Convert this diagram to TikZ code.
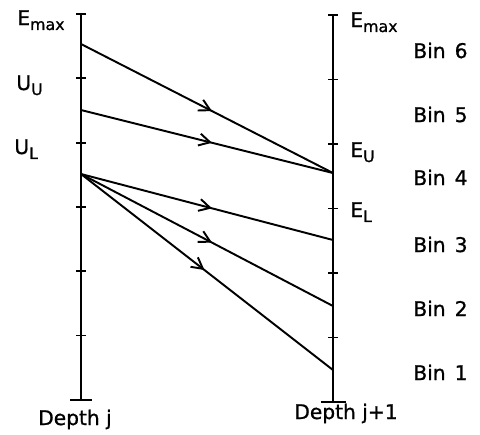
\documentclass[tikz,border=0pt]{standalone}
\usepackage{fontspec}
\setmainfont{DejaVu Sans}[FakeBold=1]
\usetikzlibrary{arrows.meta, decorations.markings}
\tikzset{
  axisline/.style={line width=1.1pt},
  ray/.style={line width=1.1pt, postaction={decorate},
    decoration={markings, mark=at position #1 with
      {\arrow{Straight Barb[length=2.2mm,width=2.4mm]}}}},
  ray/.default=0.52,
  lbl/.style={font=\fontsize{11.5}{13}\selectfont, inner sep=0pt}
}
\newcommand\lsub[1]{\raisebox{-0.45ex}{\fontsize{9}{10}\selectfont #1}}

\begin{document}
\begin{tikzpicture}[x=0.02cm, y=-0.02cm]
\useasboundingbox (0,0) rectangle (480,434);

% ── Depth axes ───────────────────────────────────────────────────────────────
\coordinate (jtop) at (81,14);
\coordinate (jbot) at (81,400);
\coordinate (ktop) at (333,15);
\coordinate (kbot) at (333,402);
\draw[axisline] (jtop) -- (jbot);
\draw[axisline] (ktop) -- (kbot);

% bin boundary ticks
\foreach \k in {0,...,5} {
  \draw[axisline] (76,14+64.3*\k) -- (86,14+64.3*\k);
  \draw[axisline] (328,15+64.5*\k) -- (338,15+64.5*\k);
}
\draw[axisline] (70,400) -- (92,400);
\draw[axisline] (321,402) -- (346,402);

% ── Energy transfer rays ─────────────────────────────────────────────────────
\coordinate (src6) at (81,44);
\coordinate (src5) at (81,110);
\coordinate (src4) at (81,174);
\coordinate (dst4) at (333,173);
\coordinate (dst3) at (333,240);
\coordinate (dst2) at (333,306);
\coordinate (dst1) at (333,370);

\draw[ray] (src6) -- (dst4);
\draw[ray] (src5) -- (dst4);
\draw[ray] (src4) -- (dst3);
\draw[ray] (src4) -- (dst2);
\draw[ray=0.49] (src4) -- (dst1);

% ── Energy labels ────────────────────────────────────────────────────────────
\node[lbl, anchor=base west] (emaxj) at (17,25)  {E\lsub{max}};
\node[lbl, anchor=base west] (uu)    at (16,90)  {U\lsub{U}};
\node[lbl, anchor=base west] (ul)    at (14,154) {U\lsub{L}};
\node[lbl, anchor=base west] (emaxk) at (350,27) {E\lsub{max}};
\node[lbl, anchor=base west] (eu)    at (350,157) {E\lsub{U}};
\node[lbl, anchor=base west] (el)    at (350,217) {E\lsub{L}};

% ── Bin labels ───────────────────────────────────────────────────────────────
\foreach \b/\y in {6/58, 5/122, 4/185, 3/252, 2/316, 1/380} {
  \node[lbl, anchor=base west] (bin\b) at (413,\y) {Bin\hspace{0.45em}\b};
}

% ── Depth labels ─────────────────────────────────────────────────────────────
\node[lbl, anchor=base] (depthj) at (75,425)  {Depth j};
\node[lbl, anchor=base] (depthk) at (346,419) {Depth j+1};

\end{tikzpicture}
\end{document}
